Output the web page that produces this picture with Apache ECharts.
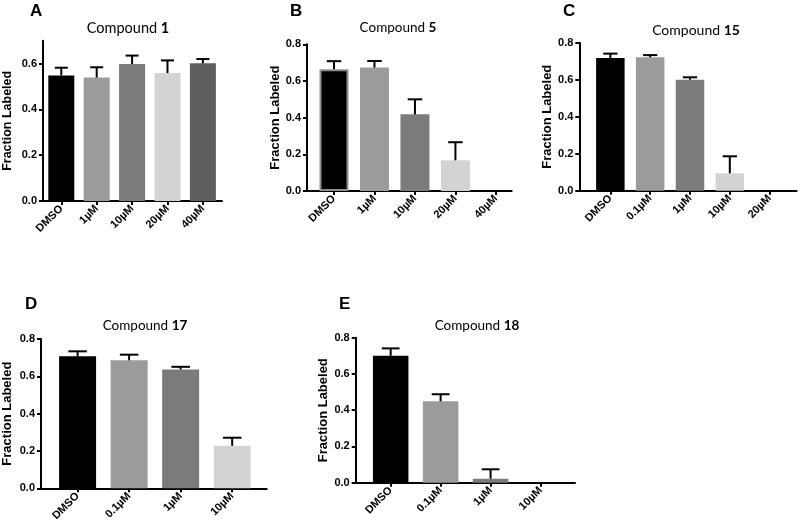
<!DOCTYPE html>
<html>
<head>
<meta charset="utf-8">
<script src="https://cdn.jsdelivr.net/npm/echarts@6/dist/echarts.min.js"></script>
<style>
  html, body { margin: 0; padding: 0; background: #fff; }
  #main { width: 800px; height: 529px; }
</style>
</head>
<body>
<div id="main"></div>
<script>
// categories per panel
const catsA = ['DMSO', '1µM', '10µM', '20µM', '40µM'];
const catsB = ['DMSO', '1µM', '10µM', '20µM', '40µM'];
const catsC = ['DMSO', '0.1µM', '1µM', '10µM', '20µM'];
const catsD = ['DMSO', '0.1µM', '1µM', '10µM'];
const catsE = ['DMSO', '0.1µM', '1µM', '10µM'];

// mean fraction labeled
const meanA = [0.548, 0.539, 0.598, 0.559, 0.601];
const meanB = [0.664, 0.673, 0.418, 0.167, 0];
const meanC = [0.717, 0.721, 0.600, 0.094, 0];
const meanD = [0.707, 0.686, 0.637, 0.228];
const meanE = [0.700, 0.449, 0.022, 0];

// upper error (SEM)
const errA = [0.034, 0.045, 0.037, 0.055, 0.019];
const errB = [0.044, 0.036, 0.082, 0.099, 0];
const errC = [0.024, 0.012, 0.013, 0.092, 0];
const errD = [0.027, 0.030, 0.014, 0.043];
const errE = [0.041, 0.039, 0.052, 0];

const ticks07 = [0, 0.2, 0.4, 0.6];
const ticks08 = [0, 0.2, 0.4, 0.6, 0.8];

const barColors = ['#000000', '#9b9b9b', '#7b7b7b', '#d3d3d3', '#5e5e5e'];
const labelFont = '"Liberation Sans", Arial, sans-serif';
const titleFont = 'Lato, "Open Sans", sans-serif';

// layout for each panel
const panels = [
  { letter: 'A', num: '1', cats: catsA, mean: meanA, err: errA, max: 0.7, ticks: ticks07,
    grid: { left: 43, top: 40.7, width: 179, height: 160.3 }, xr: [-0.517, 4.54], bw: 26,
    letterPos: [30, 3], titlePos: [128, 21], titleSize: 14.5, nameGap: 29, nameSize: 12.5, outline: [] },
  { letter: 'B', num: '5', cats: catsB, mean: meanB, err: errB, max: 0.8, ticks: ticks08,
    grid: { left: 307, top: 44.3, width: 204.7, height: 146.7 }, xr: [-0.667, 4.39], bw: 29,
    letterPos: [290, 3], titlePos: [398, 21], titleSize: 13.5, nameGap: 25, nameSize: 13, outline: [0] },
  { letter: 'C', num: '15', cats: catsC, mean: meanC, err: errC, max: 0.8, ticks: ticks08,
    grid: { left: 579.3, top: 42.7, width: 217.4, height: 148 }, xr: [-0.78, 4.68], bw: 28.5,
    letterPos: [563, 3], titlePos: [696, 23], titleSize: 14, nameGap: 21, nameSize: 13, outline: [] },
  { letter: 'D', num: '17', cats: catsD, mean: meanD, err: errD, max: 0.8, ticks: ticks08,
    grid: { left: 40, top: 339, width: 226.7, height: 149.3 }, xr: [-0.71, 3.67], bw: 37,
    letterPos: [25, 296], titlePos: [145, 319], titleSize: 13.5, nameGap: 27, nameSize: 13, outline: [] },
  { letter: 'E', num: '18', cats: catsE, mean: meanE, err: errE, max: 0.8, ticks: ticks08,
    grid: { left: 355.7, top: 337.7, width: 219.3, height: 145 }, xr: [-0.70, 3.69], bw: 35.5,
    letterPos: [339, 296], titlePos: [477, 319], titleSize: 13.5, nameGap: 26, nameSize: 13, outline: [] }
];

const axisLine = { show: true, onZero: false, lineStyle: { color: '#000', width: 2 } };
const axisTickStyle = { color: '#000', width: 2 };

const grids = [], xAxes = [], yAxes = [], series = [], graphics = [];

panels.forEach(function (p, i) {
  grids.push(p.grid);
  const idx = p.cats.map(function (_, k) { return k; });

  xAxes.push({
    type: 'value', gridIndex: i, min: p.xr[0], max: p.xr[1],
    splitLine: { show: false },
    axisLine: axisLine,
    axisTick: { show: true, customValues: idx, length: 4, lineStyle: axisTickStyle },
    axisLabel: {
      customValues: idx, rotate: 45, margin: 6,
      formatter: function (v) { return p.cats[Math.round(v)]; },
      fontFamily: labelFont, fontWeight: 'bold', fontSize: 11, color: '#000'
    }
  });

  yAxes.push({
    type: 'value', gridIndex: i, min: 0, max: p.max,
    splitLine: { show: false },
    axisLine: axisLine,
    axisTick: { show: true, customValues: p.ticks, length: 4, lineStyle: axisTickStyle },
    axisLabel: {
      customValues: p.ticks, margin: 6,
      formatter: function (v) { return v.toFixed(1); },
      fontFamily: labelFont, fontWeight: 'bold', fontSize: 11, color: '#000'
    },
    name: 'Fraction Labeled', nameLocation: 'middle', nameGap: p.nameGap,
    nameTextStyle: { fontFamily: labelFont, fontWeight: 'bold', fontSize: p.nameSize, color: '#000' }
  });

  series.push({
    type: 'bar', xAxisIndex: i, yAxisIndex: i, barWidth: p.bw,
    data: p.mean.map(function (v, k) {
      const st = { color: barColors[k] };
      if (p.outline.indexOf(k) >= 0) { st.borderColor = '#8e8e8e'; st.borderWidth = 2; }
      return { value: [k, v], itemStyle: st };
    })
  });

  // upper error bars
  series.push({
    type: 'custom', xAxisIndex: i, yAxisIndex: i, z: 5,
    encode: { x: 0, y: 1 },
    data: p.mean.map(function (v, k) { return [k, v, p.err[k]]; }),
    renderItem: function (params, api) {
      const k = api.value(0), m = api.value(1), e = api.value(2);
      if (!(e > 0)) return;
      const base = api.coord([k, m]);
      const top = api.coord([k, m + e]);
      const half = p.bw / 4;
      const ls = { stroke: '#000', lineWidth: 2 };
      return {
        type: 'group',
        children: [
          { type: 'line', shape: { x1: base[0], y1: base[1], x2: top[0], y2: top[1] }, style: ls },
          { type: 'line', shape: { x1: top[0] - half, y1: top[1], x2: top[0] + half, y2: top[1] }, style: ls }
        ]
      };
    }
  });

  graphics.push({
    type: 'text', x: p.letterPos[0], y: p.letterPos[1],
    style: { text: p.letter, fontFamily: labelFont, fontWeight: 'bold', fontSize: 17, fill: '#000' }
  });
  graphics.push({
    type: 'text', x: p.titlePos[0], y: p.titlePos[1],
    style: {
      text: '{n|Compound }{b|' + p.num + '}', align: 'center', verticalAlign: 'top',
      rich: {
        n: { fontFamily: titleFont, fontSize: p.titleSize, fill: '#000' },
        b: { fontFamily: titleFont, fontSize: p.titleSize, fontWeight: 'bold', fill: '#000' }
      }
    }
  });
});

const chart = echarts.init(document.getElementById('main'), null, { renderer: 'canvas' });
chart.setOption({
  animation: false,
  backgroundColor: '#fff',
  grid: grids,
  xAxis: xAxes,
  yAxis: yAxes,
  series: series,
  graphic: graphics
});
</script>
</body>
</html>
